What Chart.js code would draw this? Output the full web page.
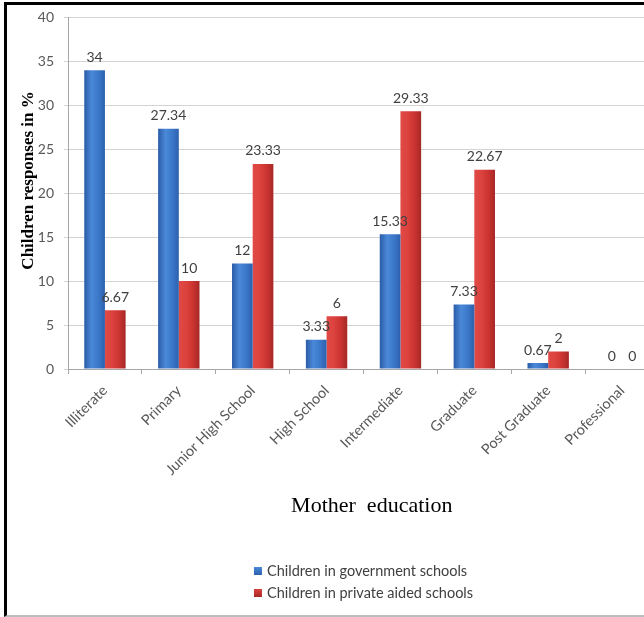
<!DOCTYPE html>
<html>
<head>
<meta charset="utf-8">
<script src="https://cdn.jsdelivr.net/npm/chart.js@4.4.1/dist/chart.umd.min.js"></script>
<style>
  html, body { margin: 0; padding: 0; background: #fff; overflow: hidden; }
  #frame {
    position: absolute; left: 4px; top: 2px; width: 640px; height: 610px;
    border-left: 3px solid #000; border-top: 3px solid #000; border-bottom: 2px solid #bdbdbd;
    overflow: hidden; background: #fff;
  }
  #wrap { position: absolute; left: 0; top: -6px; width: 660px; height: 616px; }
</style>
</head>
<body>
<div id="frame"><div id="wrap"><canvas id="c" width="660" height="616"></canvas></div></div>
<script>
const categories = ["Illiterate", "Primary", "Junior High School", "High School", "Intermediate", "Graduate", "Post Graduate", "Professional"];
const governmentValues = [34, 27.34, 12, 3.33, 15.33, 7.33, 0.67, 0];
const privateValues = [6.67, 10, 23.33, 6, 29.33, 22.67, 2, 0];
const seriesLabels = ["Children in government schools", "Children in private aided schools"];
const yTicks = [0, 5, 10, 15, 20, 25, 30, 35, 40];

const palettes = [
  { solid: "#3a74c4", stops: ["#2a5ba6", "#4a88d8", "#3b77c8", "#2c60ad"] },
  { solid: "#d23a36", stops: ["#e04a46", "#dc423e", "#c93330", "#a52826"] }
];

function barGradient(context) {
  const chart = context.chart;
  const pal = palettes[context.datasetIndex];
  const xs = chart.scales && chart.scales.x;
  if (!xs || !chart.chartArea) return pal.solid;
  const cat = xs.getPixelForValue(context.dataIndex);
  const cw = (xs.right - xs.left) / categories.length;
  const bw = cw * 0.56 / 2;
  const left = context.datasetIndex === 0 ? cat - bw : cat;
  const g = chart.ctx.createLinearGradient(left, 0, left + bw, 0);
  g.addColorStop(0, pal.stops[0]);
  g.addColorStop(0.35, pal.stops[1]);
  g.addColorStop(0.7, pal.stops[2]);
  g.addColorStop(1, pal.stops[3]);
  return g;
}

const valueLabels = {
  id: "valueLabels",
  afterDatasetsDraw(chart) {
    const ctx = chart.ctx;
    ctx.save();
    ctx.font = "14px Lato, 'Open Sans', sans-serif";
    ctx.fillStyle = "#404040";
    ctx.textAlign = "center";
    ctx.textBaseline = "bottom";
    chart.data.datasets.forEach((ds, di) => {
      const meta = chart.getDatasetMeta(di);
      meta.data.forEach((bar, i) => {
        ctx.fillText(String(ds.data[i]), bar.x, bar.y - 6);
      });
    });
    ctx.restore();
  }
};

const boxLegend = {
  id: "boxLegend",
  afterDraw(chart) {
    const ctx = chart.ctx;
    const area = chart.chartArea;
    ctx.save();
    ctx.font = "14.5px Lato, 'Open Sans', sans-serif";
    ctx.textBaseline = "middle";
    const widths = chart.data.datasets.map(d => ctx.measureText(d.label).width);
    const blockW = 13 + Math.max(...widths);
    const x0 = (area.left + area.right) / 2 - blockW / 2;
    const rows = [572, 594];
    chart.data.datasets.forEach((d, i) => {
      const y = rows[i];
      const pal = palettes[i];
      const g = ctx.createLinearGradient(x0, y - 4, x0, y + 4);
      g.addColorStop(0, pal.stops[1]);
      g.addColorStop(1, pal.stops[3]);
      ctx.fillStyle = g;
      ctx.fillRect(x0, y - 4, 8, 8);
      ctx.fillStyle = "#404040";
      ctx.fillText(d.label, x0 + 13, y);
    });
    ctx.restore();
  }
};

new Chart(document.getElementById("c"), {
  type: "bar",
  data: {
    labels: categories,
    datasets: [
      { label: seriesLabels[0], data: governmentValues, backgroundColor: barGradient, borderWidth: 0 },
      { label: seriesLabels[1], data: privateValues, backgroundColor: barGradient, borderWidth: 0 }
    ]
  },
  options: {
    responsive: false,
    animation: false,
    layout: { padding: { top: 6, right: 8, bottom: 96, left: 0 } },
    datasets: { bar: { categoryPercentage: 0.56, barPercentage: 1.0 } },
    plugins: {
      legend: { display: false },
      tooltip: { enabled: false }
    },
    scales: {
      x: {
        grid: { display: true, drawOnChartArea: false, drawTicks: true, tickLength: 5, color: "#a6a6a6", offset: true },
        border: { display: true, color: "#a6a6a6" },
        ticks: {
          color: "#595959", font: { family: "Lato, 'Open Sans', sans-serif", size: 14.5 },
          maxRotation: 45, minRotation: 45, padding: 8, autoSkip: false
        },
        title: {
          display: true, text: "   Mother  education", color: "#000",
          font: { family: "'Liberation Serif', 'Times New Roman', serif", size: 22 },
          padding: { top: 0, bottom: 0 }
        },
        afterFit(scale) { scale.height = 150; }
      },
      y: {
        min: 0, max: 40,
        afterBuildTicks(scale) { scale.ticks = yTicks.map(v => ({ value: v })); },
        grid: { color: "#d4d4d4", tickLength: 4, drawTicks: true },
        border: { display: true, color: "#a6a6a6" },
        ticks: { color: "#595959", font: { family: "Lato, 'Open Sans', sans-serif", size: 14 }, padding: 10 },
        title: {
          display: true, text: "      Children responses in %", color: "#000",
          font: { family: "'Liberation Serif', 'Times New Roman', serif", size: 17, weight: "bold" },
          padding: { top: 11, bottom: 0 }
        },
        afterFit(scale) { scale.width = 61; }
      }
    }
  },
  plugins: [valueLabels, boxLegend]
});
</script>
</body>
</html>
